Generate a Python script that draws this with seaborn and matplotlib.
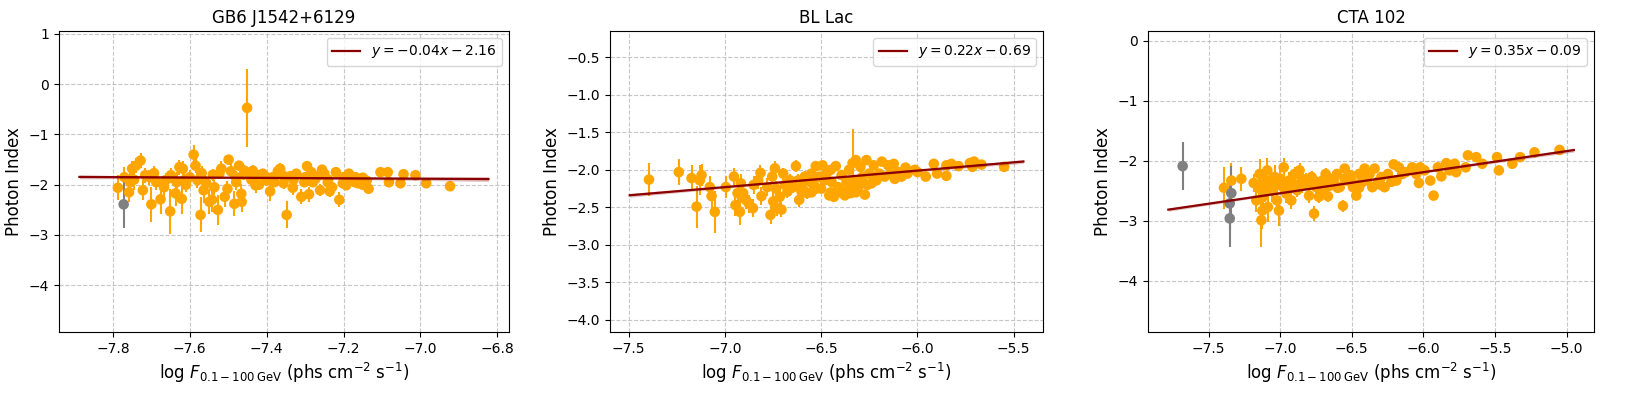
import numpy as np
import pandas as pd
import seaborn as sns
import matplotlib.pyplot as plt
from matplotlib.ticker import MultipleLocator

TITLES = ["GB6 J1542+6129", "BL Lac", "CTA 102"]
FIT_SLOPE = [-0.04, 0.22, 0.35]
FIT_INTERCEPT = [-2.16, -0.69, -0.09]
FIT_LABELS = ["$y = -0.04x - 2.16$", "$y=0.22x-0.69$", "$y=0.35x-0.09$"]
YLIMS = [(-4.93, 1.06), (-4.16, -0.15), (-4.85, 0.16)]
XSTEPS = [0.2, 0.5, 0.5]

# GB6 J1542+6129
gb6_x = [-7.787, -7.755, -7.758, -7.750, -7.740, -7.728, -7.722, -7.716, -7.700, -7.693,
         -7.687, -7.676, -7.667, -7.663, -7.651, -7.649, -7.637, -7.634, -7.627, -7.621,
         -7.618, -7.614, -7.590, -7.585, -7.580, -7.572, -7.569, -7.564, -7.557, -7.549,
         -7.542, -7.536, -7.527, -7.523, -7.518, -7.509, -7.502, -7.499, -7.493, -7.484,
         -7.479, -7.472, -7.466, -7.465, -7.458, -7.451, -7.445, -7.436, -7.429, -7.423,
         -7.410, -7.401, -7.391, -7.384, -7.371, -7.365, -7.356, -7.348, -7.339, -7.332,
         -7.323, -7.310, -7.302, -7.295, -7.290, -7.284, -7.273, -7.261, -7.256, -7.250,
         -7.241, -7.236, -7.220, -7.211, -7.202, -7.193, -7.186, -7.178, -7.169, -7.163,
         -7.150, -7.135, -7.104, -7.085, -7.082, -7.052, -7.044, -7.013, -6.985, -6.923,
         -7.770, -7.745, -7.705, -7.610, -7.600, -7.540, -7.480, -7.460, -7.440, -7.420,
         -7.400, -7.380, -7.360, -7.330, -7.300, -7.280, -7.260, -7.240, -7.230, -7.200,
         -7.170, -7.150, -7.140]
gb6_y = [-2.06, -1.95, -2.15, -1.68, -1.62, -1.52, -2.11, -1.81, -2.39, -1.77,
         -1.95, -2.29, -2.05, -1.91, -2.53, -1.81, -2.17, -1.95, -1.65, -2.28,
         -1.68, -1.91, -1.40, -1.62, -1.91, -2.60, -1.77, -2.11, -1.97, -2.34,
         -2.30, -2.05, -2.50, -1.78, -1.68, -2.24, -2.08, -1.50, -1.73, -2.38,
         -1.95, -1.62, -2.18, -2.34, -1.72, -0.47, -1.78, -1.72, -2.01, -1.81,
         -1.78, -1.91, -2.13, -1.85, -1.73, -1.68, -1.97, -2.60, -1.83, -2.06,
         -1.78, -2.24, -1.95, -1.63, -2.19, -1.75, -1.88, -2.11, -1.70, -1.78,
         -1.95, -2.13, -1.75, -2.30, -1.97, -2.01, -1.78, -1.91, -1.85, -1.97,
         -1.86, -2.08, -1.75, -1.75, -1.95, -1.97, -1.79, -1.81, -1.97, -2.03,
         -1.85, -1.90, -1.85, -2.00, -1.85, -1.80, -1.85, -1.80, -1.90, -2.00,
         -1.85, -1.95, -1.80, -1.90, -1.85, -1.95, -1.80, -1.90, -2.05, -1.85,
         -1.95, -2.00, -1.92]
gb6_err = [0.25, 0.2, 0.2, 0.15, 0.15, 0.15, 0.2, 0.15, 0.35, 0.15,
           0.15, 0.3, 0.2, 0.15, 0.45, 0.15, 0.25, 0.2, 0.15, 0.3,
           0.15, 0.15, 0.2, 0.15, 0.15, 0.35, 0.15, 0.25, 0.15, 0.25,
           0.25, 0.15, 0.3, 0.1, 0.15, 0.2, 0.15, 0.1, 0.15, 0.25,
           0.15, 0.1, 0.2, 0.2, 0.12, 0.77, 0.12, 0.12, 0.15, 0.1,
           0.1, 0.12, 0.2, 0.1, 0.1, 0.12, 0.12, 0.27, 0.1, 0.15,
           0.1, 0.15, 0.1, 0.1, 0.15, 0.1, 0.1, 0.12, 0.1, 0.1,
           0.1, 0.12, 0.1, 0.15, 0.1, 0.1, 0.1, 0.1, 0.1, 0.1,
           0.1, 0.1, 0.08, 0.08, 0.08, 0.08, 0.08, 0.08, 0.08, 0.06,
           0.2, 0.2, 0.15, 0.15, 0.15, 0.12, 0.12, 0.1, 0.1, 0.1,
           0.1, 0.1, 0.1, 0.1, 0.1, 0.1, 0.1, 0.1, 0.1, 0.08,
           0.08, 0.08, 0.08]
gb6_low_x = [-7.772]
gb6_low_y = [-2.39]
gb6_low_err = [0.48]

# BL Lac
bll_x = [-7.394, -7.239, -7.173, -7.147, -7.130, -7.121, -7.078, -7.069, -7.052, -6.995,
         -6.953, -6.945, -6.934, -6.922, -6.917, -6.905, -6.891, -6.875, -6.854, -6.851,
         -6.827, -6.815, -6.810, -6.780, -6.763, -6.754, -6.749, -6.740, -6.735, -6.730,
         -6.715, -6.706, -6.697, -6.688, -6.675, -6.663, -6.645, -6.631, -6.619, -6.614,
         -6.602, -6.585, -6.573, -6.559, -6.550, -6.538, -6.528, -6.524, -6.510, -6.493,
         -6.484, -6.472, -6.458, -6.446, -6.434, -6.424, -6.412, -6.394, -6.377, -6.368,
         -6.355, -6.346, -6.337, -6.330, -6.320, -6.308, -6.296, -6.285, -6.273, -6.265,
         -6.251, -6.239, -6.227, -6.213, -6.199, -6.185, -6.170, -6.152, -6.140, -6.123,
         -6.118, -6.100, -6.083, -6.062, -6.052, -6.014, -6.000, -5.957, -5.915, -5.898,
         -5.850, -5.850, -5.824, -5.787, -5.728, -5.706, -5.715, -5.668, -5.550,
         -6.600, -6.500, -6.450, -6.400, -6.360, -6.320, -6.300, -6.260, -6.450, -6.550]
bll_y = [-2.13, -2.03, -2.11, -2.49, -2.14, -2.07, -2.23, -2.35, -2.56, -2.23,
         -2.09, -2.47, -2.31, -2.56, -2.18, -2.31, -2.40, -2.45, -2.51, -2.20,
         -2.14, -2.04, -2.35, -2.23, -2.60, -2.09, -2.42, -1.98, -2.25, -2.51,
         -2.36, -2.53, -2.05, -2.20, -2.29, -2.14, -2.23, -1.95, -2.14, -2.40,
         -2.29, -2.09, -2.31, -2.16, -2.05, -2.20, -1.95, -2.25, -2.09, -1.94,
         -2.14, -2.05, -2.34, -2.16, -2.36, -1.95, -2.23, -2.07, -2.34, -2.16,
         -2.00, -2.31, -1.91, -2.14, -1.87, -2.23, -1.96, -2.09, -2.33, -1.87,
         -2.05, -2.18, -1.94, -2.14, -2.05, -1.89, -2.09, -1.94, -2.05, -1.92,
         -2.12, -2.03, -2.09, -1.97, -2.05, -2.00, -2.03, -2.09, -1.92, -2.05,
         -2.08, -1.94, -1.92, -1.95, -1.91, -1.89, -1.96, -1.93, -1.96,
         -2.20, -2.25, -2.30, -2.30, -2.25, -2.30, -2.15, -2.20, -2.00, -2.30]
bll_err = [0.22, 0.17, 0.17, 0.28, 0.2, 0.15, 0.15, 0.18, 0.28, 0.15,
           0.12, 0.15, 0.2, 0.18, 0.12, 0.15, 0.12, 0.12, 0.12, 0.12,
           0.12, 0.1, 0.12, 0.12, 0.12, 0.1, 0.12, 0.1, 0.1, 0.1,
           0.1, 0.1, 0.08, 0.08, 0.08, 0.08, 0.08, 0.08, 0.08, 0.1,
           0.08, 0.08, 0.08, 0.08, 0.06, 0.06, 0.06, 0.06, 0.06, 0.06,
           0.06, 0.06, 0.06, 0.06, 0.06, 0.06, 0.06, 0.06, 0.06, 0.06,
           0.06, 0.06, 0.45, 0.06, 0.06, 0.06, 0.06, 0.06, 0.06, 0.05,
           0.05, 0.05, 0.05, 0.05, 0.05, 0.05, 0.05, 0.05, 0.05, 0.05,
           0.05, 0.05, 0.05, 0.05, 0.05, 0.04, 0.04, 0.04, 0.04, 0.04,
           0.04, 0.04, 0.04, 0.04, 0.04, 0.04, 0.04, 0.04, 0.04,
           0.06, 0.06, 0.06, 0.06, 0.06, 0.06, 0.06, 0.06, 0.06, 0.06]
bll_low_x = []
bll_low_y = []
bll_low_err = []

# CTA 102
cta_x = [-7.393, -7.342, -7.272, -7.186, -7.167, -7.144, -7.132, -7.121, -7.125, -7.109,
         -7.091, -7.086, -7.069, -7.055, -7.039, -7.023, -7.009, -6.993, -6.976, -6.958,
         -6.939, -6.923, -6.900, -6.883, -6.865, -6.846, -6.823, -6.799, -6.781, -6.764,
         -6.748, -6.730, -6.706, -6.683, -6.667, -6.650, -6.627, -6.604, -6.585, -6.562,
         -6.550, -6.532, -6.511, -6.492, -6.469, -6.450, -6.434, -6.411, -6.394, -6.376,
         -6.357, -6.341, -6.318, -6.294, -6.271, -6.248, -6.224, -6.208, -6.189, -6.171,
         -6.148, -6.124, -6.078, -6.050, -6.031, -6.022, -5.992, -5.952, -5.929, -5.899,
         -5.875, -5.840, -5.817, -5.782, -5.771, -5.705, -5.689, -5.631, -5.589, -5.486,
         -5.473, -5.379, -5.324, -5.224, -5.049,
         -7.150, -7.100, -7.050, -7.000, -6.950, -6.900, -6.850, -6.800, -6.750, -6.700,
         -6.650, -6.600, -6.550, -6.500, -6.450, -6.400, -6.300]
cta_y = [-2.45, -2.33, -2.30, -2.37, -2.66, -2.22, -2.99, -2.60, -2.83, -2.44,
         -2.16, -2.77, -2.33, -2.49, -2.27, -2.66, -2.83, -2.41, -2.11, -2.55,
         -2.33, -2.66, -2.22, -2.49, -2.16, -2.41, -2.33, -2.58, -2.27, -2.88,
         -2.44, -2.60, -2.33, -2.22, -2.59, -2.41, -2.33, -2.22, -2.44, -2.75,
         -2.13, -2.33, -2.24, -2.44, -2.58, -2.22, -2.37, -2.13, -2.33, -2.22,
         -2.44, -2.13, -2.35, -2.27, -2.44, -2.22, -2.35, -2.06, -2.33, -2.11,
         -2.22, -2.19, -2.11, -2.22, -2.37, -2.11, -2.16, -2.33, -2.58, -2.11,
         -2.26, -2.04, -2.16, -2.05, -2.19, -2.11, -1.91, -1.94, -2.05, -1.94,
         -2.16, -2.05, -1.94, -1.86, -1.82,
         -2.45, -2.35, -2.40, -2.30, -2.45, -2.40, -2.30, -2.40, -2.35, -2.45,
         -2.30, -2.45, -2.30, -2.35, -2.45, -2.25, -2.40]
cta_err = [0.35, 0.3, 0.2, 0.15, 0.2, 0.25, 0.45, 0.25, 0.3, 0.25,
           0.2, 0.25, 0.2, 0.2, 0.2, 0.2, 0.25, 0.15, 0.15, 0.15,
           0.15, 0.15, 0.12, 0.12, 0.12, 0.12, 0.12, 0.12, 0.1, 0.12,
           0.1, 0.1, 0.1, 0.1, 0.1, 0.1, 0.08, 0.08, 0.08, 0.1,
           0.08, 0.08, 0.08, 0.08, 0.08, 0.08, 0.08, 0.07, 0.07, 0.07,
           0.07, 0.07, 0.07, 0.07, 0.07, 0.07, 0.07, 0.06, 0.06, 0.06,
           0.06, 0.06, 0.06, 0.06, 0.06, 0.06, 0.05, 0.05, 0.08, 0.05,
           0.05, 0.05, 0.05, 0.05, 0.05, 0.04, 0.04, 0.04, 0.04, 0.04,
           0.04, 0.04, 0.04, 0.04, 0.03,
           0.25, 0.25, 0.2, 0.2, 0.15, 0.15, 0.12, 0.12, 0.1, 0.1,
           0.1, 0.08, 0.08, 0.08, 0.08, 0.07, 0.07]
cta_low_x = [-7.682, -7.342, -7.353, -7.353]
cta_low_y = [-2.09, -2.54, -2.71, -2.96]
cta_low_err = [0.40, 0.45, 0.45, 0.47]

SOURCES = [
    (gb6_x, gb6_y, gb6_err, gb6_low_x, gb6_low_y, gb6_low_err),
    (bll_x, bll_y, bll_err, bll_low_x, bll_low_y, bll_low_err),
    (cta_x, cta_y, cta_err, cta_low_x, cta_low_y, cta_low_err),
]

POSITIONS = [[0.0363, 0.1574, 0.2769, 0.7640],
             [0.3754, 0.1574, 0.2665, 0.7640],
             [0.7065, 0.1574, 0.2745, 0.7640]]

fig, axes = plt.subplots(1, 3, figsize=(16.25, 3.94), dpi=100)

for i, ax in enumerate(axes):
    x, y, err, lx, ly, lerr = SOURCES[i]
    df = pd.DataFrame({"flux": x + lx, "index": y + ly, "err": err + lerr,
                       "kind": ["det"] * len(x) + ["low"] * len(lx)})
    pal = {"det": "orange", "low": "gray"}

    for kind, col in pal.items():
        sub = df[df["kind"] == kind]
        if len(sub):
            ax.errorbar(sub["flux"], sub["index"], yerr=sub["err"], fmt="none",
                        ecolor=col, elinewidth=1.5, zorder=2)
    sns.scatterplot(data=df, x="flux", y="index", hue="kind", palette=pal,
                    s=58, linewidth=0, legend=False, ax=ax, zorder=3)

    # fit line from the quoted coefficients, +-0.1 beyond the data
    m, b = FIT_SLOPE[i], FIT_INTERCEPT[i]
    xg = np.linspace(df["flux"].min() - 0.1, df["flux"].max() + 0.1, 100)
    xd, yd = np.array(x), np.array(y)
    resid = yd - (m * xd + b)
    s = np.sqrt(np.sum(resid ** 2) / (len(xd) - 2))
    se = s * np.sqrt(1 / len(xd) + (xg - xd.mean()) ** 2 / np.sum((xd - xd.mean()) ** 2))
    ax.fill_between(xg, m * xg + b - 0.6 * se, m * xg + b + 0.6 * se,
                    color="darkred", alpha=0.25, linewidth=0, zorder=4)
    sns.lineplot(x=xg, y=m * xg + b, color="darkred", linewidth=1.6,
                 label=FIT_LABELS[i], ax=ax, zorder=5)

    ax.set_ylim(*YLIMS[i])
    ax.xaxis.set_major_locator(MultipleLocator(XSTEPS[i]))
    ax.set_title(TITLES[i], fontsize=12)
    ax.set_xlabel(r"log $F_{0.1-100\,\mathrm{GeV}}$ (phs cm$^{-2}$ s$^{-1}$)", fontsize=12)
    ax.set_ylabel("Photon Index", fontsize=12)
    ax.grid(True, linestyle="--", alpha=0.7)
    ax.legend(loc="upper right", fontsize=10)
    ax.set_position(POSITIONS[i])

plt.savefig("out.png", dpi=100)
